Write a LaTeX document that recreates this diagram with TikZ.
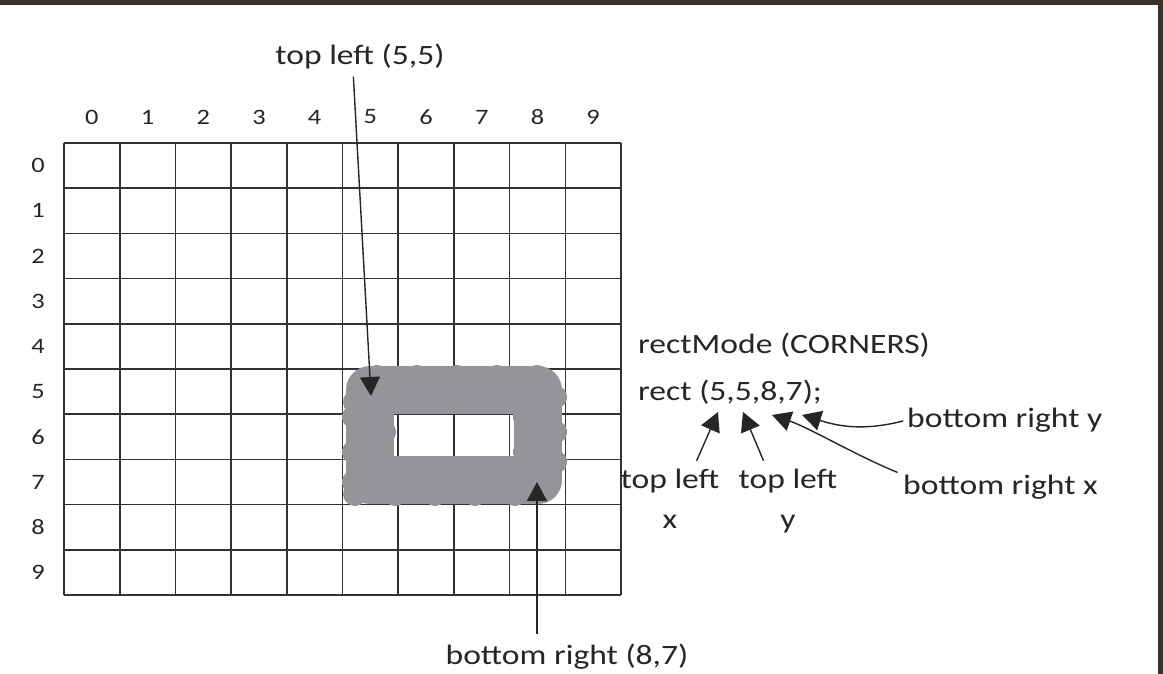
\documentclass[tikz,border=0pt]{standalone}
\usepackage{fontspec}
\setmainfont{Carlito}[FakeStretch=1.2]
\usepackage{tikz}
\usetikzlibrary{arrows.meta, positioning}
\colorlet{inkcol}{black!85}
\definecolor{framecol}{HTML}{3B312B}
\definecolor{markergray}{HTML}{939598}

\begin{document}
\begin{tikzpicture}[x=1pt, y=-1pt, >={Triangle[length=19pt,width=20pt]},
    hand/.style={font=\fontsize{28}{40}\selectfont, text=inkcol, inner sep=0pt},
    digit/.style={font=\fontsize{22}{26}\selectfont, text=inkcol, inner sep=0pt},
    gridline/.style={draw=black!80, line width=1.6pt},
    pointer/.style={->, draw=black!85, line width=1.4pt}]
  \useasboundingbox (0,0) rectangle (1163,674);
  \fill[white] (0,0) rectangle (1163,674);
  \fill[framecol] (0,0) rectangle (1163,5);
  \fill[framecol] (1158,0) rectangle (1163,674);

  % 10x10 pixel grid
  \foreach \i in {0,...,10} {
    \draw[gridline] ({64+55.7*\i},143) -- ({64+55.7*\i},595);
    \draw[gridline] (64,{143+45.2*\i}) -- (621,{143+45.2*\i});
  }
  \foreach \i in {0,...,9} {
    \node[digit] (col\i) at ({91.85+55.7*\i},117) {\i};
    \node[digit] (row\i) at (38,{165.6+45.2*\i}) {\i};
  }

  % marker scribble round the rectangle
  \draw[markergray, line width=48pt, line join=round] (370,390) rectangle (538,480);
  \foreach \x in {355,395,...,535} {
    \draw[markergray, line width=24pt, line cap=round] (\x,402) -- (\x+22,377);
    \draw[markergray, line width=24pt, line cap=round] (\x,494) -- (\x+22,468);
  }
  \foreach \y in {405,440,470} {
    \draw[markergray, line width=24pt, line cap=round] (354,\y+12) -- (384,\y-8);
    \draw[markergray, line width=24pt, line cap=round] (525,\y+12) -- (555,\y-8);
  }

  % labels and arrows on the grid
  \node[hand] (tl) at (360,57) {top left (5,5)};
  \coordinate (tlcorner) at (371,396);
  \draw[pointer, shorten <=7pt] ([xshift=-7pt]tl.south) -- (tlcorner);

  \node[hand] (br) at (567,657) {bottom right (8,7)};
  \coordinate (brcorner) at (537,482);
  \draw[pointer, shorten <=10pt] ([xshift=-30pt]br.north) -- (brcorner);

  % code lines
  \node[hand, anchor=west] (mode) at (638,345) {rectMode (CORNERS)};
  \node[hand, anchor=west] (rect) at (638,392) {rect (5,5,8,7);};

  \node[hand, align=center, anchor=north] (tlx) at (670,469) {top left\\x};
  \node[hand, align=center, anchor=north] (tly) at (788,469) {top left\\y};
  \node[hand, anchor=west] (brx) at (903,487) {bottom right x};
  \node[hand, anchor=west] (bry) at (907,420) {bottom right y};

  \coordinate (argx1) at (718,412);
  \coordinate (argy1) at (743,412);
  \coordinate (argx2) at (772,415);
  \coordinate (argy2) at (802,415);
  \draw[pointer, shorten <=9pt] ([xshift=23pt]tlx.north) -- (argx1);
  \draw[pointer, shorten <=9pt] ([xshift=-21pt]tly.north) -- (argy1);
  \draw[pointer, shorten <=6pt] (brx.north west) .. controls (855,455) and (810,428) .. (argx2);
  \draw[pointer, shorten <=4pt] (bry.west) .. controls (860,432) and (835,425) .. (argy2);
\end{tikzpicture}
\end{document}
